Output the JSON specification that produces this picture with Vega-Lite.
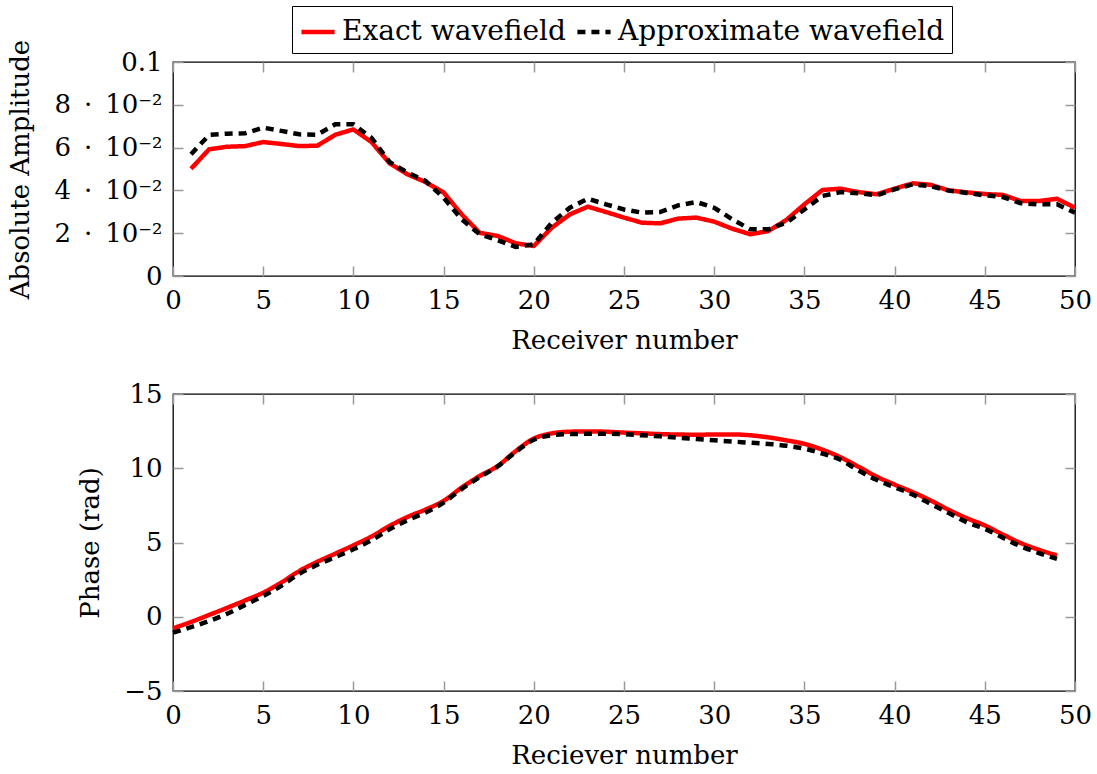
{
  "$schema": "https://vega.github.io/schema/vega-lite/v6.json",
  "background": "white",
  "padding": {"left": 7, "top": 5, "right": 8, "bottom": 2},
  "spacing": 26,
  "datasets": {
    "amp": [
      {"receiver": 1, "wavefield": "Exact wavefield", "value": 0.0501},
      {"receiver": 2, "wavefield": "Exact wavefield", "value": 0.0592},
      {"receiver": 3, "wavefield": "Exact wavefield", "value": 0.0604},
      {"receiver": 4, "wavefield": "Exact wavefield", "value": 0.0607},
      {"receiver": 5, "wavefield": "Exact wavefield", "value": 0.0626},
      {"receiver": 6, "wavefield": "Exact wavefield", "value": 0.0617},
      {"receiver": 7, "wavefield": "Exact wavefield", "value": 0.0607},
      {"receiver": 8, "wavefield": "Exact wavefield", "value": 0.0609},
      {"receiver": 9, "wavefield": "Exact wavefield", "value": 0.066},
      {"receiver": 10, "wavefield": "Exact wavefield", "value": 0.0685},
      {"receiver": 11, "wavefield": "Exact wavefield", "value": 0.0626},
      {"receiver": 12, "wavefield": "Exact wavefield", "value": 0.0527},
      {"receiver": 13, "wavefield": "Exact wavefield", "value": 0.0475},
      {"receiver": 14, "wavefield": "Exact wavefield", "value": 0.0439},
      {"receiver": 15, "wavefield": "Exact wavefield", "value": 0.039},
      {"receiver": 16, "wavefield": "Exact wavefield", "value": 0.0288},
      {"receiver": 17, "wavefield": "Exact wavefield", "value": 0.0202},
      {"receiver": 18, "wavefield": "Exact wavefield", "value": 0.0187},
      {"receiver": 19, "wavefield": "Exact wavefield", "value": 0.0153},
      {"receiver": 20, "wavefield": "Exact wavefield", "value": 0.014},
      {"receiver": 21, "wavefield": "Exact wavefield", "value": 0.0226},
      {"receiver": 22, "wavefield": "Exact wavefield", "value": 0.0288},
      {"receiver": 23, "wavefield": "Exact wavefield", "value": 0.0324},
      {"receiver": 24, "wavefield": "Exact wavefield", "value": 0.0299},
      {"receiver": 25, "wavefield": "Exact wavefield", "value": 0.0273},
      {"receiver": 26, "wavefield": "Exact wavefield", "value": 0.0249},
      {"receiver": 27, "wavefield": "Exact wavefield", "value": 0.0246},
      {"receiver": 28, "wavefield": "Exact wavefield", "value": 0.0268},
      {"receiver": 29, "wavefield": "Exact wavefield", "value": 0.0273},
      {"receiver": 30, "wavefield": "Exact wavefield", "value": 0.0254},
      {"receiver": 31, "wavefield": "Exact wavefield", "value": 0.0221},
      {"receiver": 32, "wavefield": "Exact wavefield", "value": 0.0195},
      {"receiver": 33, "wavefield": "Exact wavefield", "value": 0.021},
      {"receiver": 34, "wavefield": "Exact wavefield", "value": 0.0262},
      {"receiver": 35, "wavefield": "Exact wavefield", "value": 0.0335},
      {"receiver": 36, "wavefield": "Exact wavefield", "value": 0.0402},
      {"receiver": 37, "wavefield": "Exact wavefield", "value": 0.0408},
      {"receiver": 38, "wavefield": "Exact wavefield", "value": 0.0392},
      {"receiver": 39, "wavefield": "Exact wavefield", "value": 0.0382},
      {"receiver": 40, "wavefield": "Exact wavefield", "value": 0.0408},
      {"receiver": 41, "wavefield": "Exact wavefield", "value": 0.0433},
      {"receiver": 42, "wavefield": "Exact wavefield", "value": 0.0426},
      {"receiver": 43, "wavefield": "Exact wavefield", "value": 0.04},
      {"receiver": 44, "wavefield": "Exact wavefield", "value": 0.0391},
      {"receiver": 45, "wavefield": "Exact wavefield", "value": 0.0383},
      {"receiver": 46, "wavefield": "Exact wavefield", "value": 0.0379},
      {"receiver": 47, "wavefield": "Exact wavefield", "value": 0.035},
      {"receiver": 48, "wavefield": "Exact wavefield", "value": 0.035},
      {"receiver": 49, "wavefield": "Exact wavefield", "value": 0.0361},
      {"receiver": 50, "wavefield": "Exact wavefield", "value": 0.0319},
      {"receiver": 1, "wavefield": "Approximate wavefield", "value": 0.0569},
      {"receiver": 2, "wavefield": "Approximate wavefield", "value": 0.0659},
      {"receiver": 3, "wavefield": "Approximate wavefield", "value": 0.0665},
      {"receiver": 4, "wavefield": "Approximate wavefield", "value": 0.0667},
      {"receiver": 5, "wavefield": "Approximate wavefield", "value": 0.0693},
      {"receiver": 6, "wavefield": "Approximate wavefield", "value": 0.0678},
      {"receiver": 7, "wavefield": "Approximate wavefield", "value": 0.0662},
      {"receiver": 8, "wavefield": "Approximate wavefield", "value": 0.066},
      {"receiver": 9, "wavefield": "Approximate wavefield", "value": 0.0709},
      {"receiver": 10, "wavefield": "Approximate wavefield", "value": 0.0709},
      {"receiver": 11, "wavefield": "Approximate wavefield", "value": 0.0646},
      {"receiver": 12, "wavefield": "Approximate wavefield", "value": 0.0533},
      {"receiver": 13, "wavefield": "Approximate wavefield", "value": 0.0483},
      {"receiver": 14, "wavefield": "Approximate wavefield", "value": 0.0444},
      {"receiver": 15, "wavefield": "Approximate wavefield", "value": 0.0366},
      {"receiver": 16, "wavefield": "Approximate wavefield", "value": 0.0265},
      {"receiver": 17, "wavefield": "Approximate wavefield", "value": 0.0195},
      {"receiver": 18, "wavefield": "Approximate wavefield", "value": 0.0167},
      {"receiver": 19, "wavefield": "Approximate wavefield", "value": 0.0136},
      {"receiver": 20, "wavefield": "Approximate wavefield", "value": 0.0148},
      {"receiver": 21, "wavefield": "Approximate wavefield", "value": 0.0249},
      {"receiver": 22, "wavefield": "Approximate wavefield", "value": 0.0319},
      {"receiver": 23, "wavefield": "Approximate wavefield", "value": 0.0361},
      {"receiver": 24, "wavefield": "Approximate wavefield", "value": 0.0335},
      {"receiver": 25, "wavefield": "Approximate wavefield", "value": 0.0311},
      {"receiver": 26, "wavefield": "Approximate wavefield", "value": 0.0296},
      {"receiver": 27, "wavefield": "Approximate wavefield", "value": 0.0299},
      {"receiver": 28, "wavefield": "Approximate wavefield", "value": 0.033},
      {"receiver": 29, "wavefield": "Approximate wavefield", "value": 0.0346},
      {"receiver": 30, "wavefield": "Approximate wavefield", "value": 0.0319},
      {"receiver": 31, "wavefield": "Approximate wavefield", "value": 0.0265},
      {"receiver": 32, "wavefield": "Approximate wavefield", "value": 0.0218},
      {"receiver": 33, "wavefield": "Approximate wavefield", "value": 0.0218},
      {"receiver": 34, "wavefield": "Approximate wavefield", "value": 0.0249},
      {"receiver": 35, "wavefield": "Approximate wavefield", "value": 0.0311},
      {"receiver": 36, "wavefield": "Approximate wavefield", "value": 0.0374},
      {"receiver": 37, "wavefield": "Approximate wavefield", "value": 0.0392},
      {"receiver": 38, "wavefield": "Approximate wavefield", "value": 0.0387},
      {"receiver": 39, "wavefield": "Approximate wavefield", "value": 0.0377},
      {"receiver": 40, "wavefield": "Approximate wavefield", "value": 0.0405},
      {"receiver": 41, "wavefield": "Approximate wavefield", "value": 0.0428},
      {"receiver": 42, "wavefield": "Approximate wavefield", "value": 0.042},
      {"receiver": 43, "wavefield": "Approximate wavefield", "value": 0.0399},
      {"receiver": 44, "wavefield": "Approximate wavefield", "value": 0.0388},
      {"receiver": 45, "wavefield": "Approximate wavefield", "value": 0.0377},
      {"receiver": 46, "wavefield": "Approximate wavefield", "value": 0.0369},
      {"receiver": 47, "wavefield": "Approximate wavefield", "value": 0.034},
      {"receiver": 48, "wavefield": "Approximate wavefield", "value": 0.0335},
      {"receiver": 49, "wavefield": "Approximate wavefield", "value": 0.0335},
      {"receiver": 50, "wavefield": "Approximate wavefield", "value": 0.0296}
    ],
    "phase": [
      {"receiver": 0, "wavefield": "Exact wavefield", "value": -0.78},
      {"receiver": 1, "wavefield": "Exact wavefield", "value": -0.35},
      {"receiver": 2, "wavefield": "Exact wavefield", "value": 0.12},
      {"receiver": 3, "wavefield": "Exact wavefield", "value": 0.6},
      {"receiver": 4, "wavefield": "Exact wavefield", "value": 1.1},
      {"receiver": 5, "wavefield": "Exact wavefield", "value": 1.62},
      {"receiver": 6, "wavefield": "Exact wavefield", "value": 2.3},
      {"receiver": 7, "wavefield": "Exact wavefield", "value": 3.08},
      {"receiver": 8, "wavefield": "Exact wavefield", "value": 3.7},
      {"receiver": 9, "wavefield": "Exact wavefield", "value": 4.25},
      {"receiver": 10, "wavefield": "Exact wavefield", "value": 4.81},
      {"receiver": 11, "wavefield": "Exact wavefield", "value": 5.4},
      {"receiver": 12, "wavefield": "Exact wavefield", "value": 6.11},
      {"receiver": 13, "wavefield": "Exact wavefield", "value": 6.72},
      {"receiver": 14, "wavefield": "Exact wavefield", "value": 7.22},
      {"receiver": 15, "wavefield": "Exact wavefield", "value": 7.8},
      {"receiver": 16, "wavefield": "Exact wavefield", "value": 8.7},
      {"receiver": 17, "wavefield": "Exact wavefield", "value": 9.48},
      {"receiver": 18, "wavefield": "Exact wavefield", "value": 10.15},
      {"receiver": 19, "wavefield": "Exact wavefield", "value": 11.16},
      {"receiver": 20, "wavefield": "Exact wavefield", "value": 12.0},
      {"receiver": 21, "wavefield": "Exact wavefield", "value": 12.35},
      {"receiver": 22, "wavefield": "Exact wavefield", "value": 12.46},
      {"receiver": 23, "wavefield": "Exact wavefield", "value": 12.48},
      {"receiver": 24, "wavefield": "Exact wavefield", "value": 12.46},
      {"receiver": 25, "wavefield": "Exact wavefield", "value": 12.4},
      {"receiver": 26, "wavefield": "Exact wavefield", "value": 12.35},
      {"receiver": 27, "wavefield": "Exact wavefield", "value": 12.3},
      {"receiver": 28, "wavefield": "Exact wavefield", "value": 12.27},
      {"receiver": 29, "wavefield": "Exact wavefield", "value": 12.26},
      {"receiver": 30, "wavefield": "Exact wavefield", "value": 12.27},
      {"receiver": 31, "wavefield": "Exact wavefield", "value": 12.28},
      {"receiver": 32, "wavefield": "Exact wavefield", "value": 12.22},
      {"receiver": 33, "wavefield": "Exact wavefield", "value": 12.08},
      {"receiver": 34, "wavefield": "Exact wavefield", "value": 11.88},
      {"receiver": 35, "wavefield": "Exact wavefield", "value": 11.64},
      {"receiver": 36, "wavefield": "Exact wavefield", "value": 11.25},
      {"receiver": 37, "wavefield": "Exact wavefield", "value": 10.74},
      {"receiver": 38, "wavefield": "Exact wavefield", "value": 10.1},
      {"receiver": 39, "wavefield": "Exact wavefield", "value": 9.44},
      {"receiver": 40, "wavefield": "Exact wavefield", "value": 8.9},
      {"receiver": 41, "wavefield": "Exact wavefield", "value": 8.39},
      {"receiver": 42, "wavefield": "Exact wavefield", "value": 7.83},
      {"receiver": 43, "wavefield": "Exact wavefield", "value": 7.2},
      {"receiver": 44, "wavefield": "Exact wavefield", "value": 6.64},
      {"receiver": 45, "wavefield": "Exact wavefield", "value": 6.15},
      {"receiver": 46, "wavefield": "Exact wavefield", "value": 5.54},
      {"receiver": 47, "wavefield": "Exact wavefield", "value": 4.96},
      {"receiver": 48, "wavefield": "Exact wavefield", "value": 4.51},
      {"receiver": 49, "wavefield": "Exact wavefield", "value": 4.13},
      {"receiver": 0, "wavefield": "Approximate wavefield", "value": -1.07},
      {"receiver": 1, "wavefield": "Approximate wavefield", "value": -0.7},
      {"receiver": 2, "wavefield": "Approximate wavefield", "value": -0.29},
      {"receiver": 3, "wavefield": "Approximate wavefield", "value": 0.2},
      {"receiver": 4, "wavefield": "Approximate wavefield", "value": 0.8},
      {"receiver": 5, "wavefield": "Approximate wavefield", "value": 1.4},
      {"receiver": 6, "wavefield": "Approximate wavefield", "value": 2.08},
      {"receiver": 7, "wavefield": "Approximate wavefield", "value": 2.9},
      {"receiver": 8, "wavefield": "Approximate wavefield", "value": 3.5},
      {"receiver": 9, "wavefield": "Approximate wavefield", "value": 4.02},
      {"receiver": 10, "wavefield": "Approximate wavefield", "value": 4.54},
      {"receiver": 11, "wavefield": "Approximate wavefield", "value": 5.15},
      {"receiver": 12, "wavefield": "Approximate wavefield", "value": 5.89},
      {"receiver": 13, "wavefield": "Approximate wavefield", "value": 6.5},
      {"receiver": 14, "wavefield": "Approximate wavefield", "value": 7.02},
      {"receiver": 15, "wavefield": "Approximate wavefield", "value": 7.68},
      {"receiver": 16, "wavefield": "Approximate wavefield", "value": 8.6},
      {"receiver": 17, "wavefield": "Approximate wavefield", "value": 9.4},
      {"receiver": 18, "wavefield": "Approximate wavefield", "value": 10.12},
      {"receiver": 19, "wavefield": "Approximate wavefield", "value": 11.1},
      {"receiver": 20, "wavefield": "Approximate wavefield", "value": 11.92},
      {"receiver": 21, "wavefield": "Approximate wavefield", "value": 12.22},
      {"receiver": 22, "wavefield": "Approximate wavefield", "value": 12.3},
      {"receiver": 23, "wavefield": "Approximate wavefield", "value": 12.32},
      {"receiver": 24, "wavefield": "Approximate wavefield", "value": 12.32},
      {"receiver": 25, "wavefield": "Approximate wavefield", "value": 12.3},
      {"receiver": 26, "wavefield": "Approximate wavefield", "value": 12.22},
      {"receiver": 27, "wavefield": "Approximate wavefield", "value": 12.15},
      {"receiver": 28, "wavefield": "Approximate wavefield", "value": 12.05},
      {"receiver": 29, "wavefield": "Approximate wavefield", "value": 11.97},
      {"receiver": 30, "wavefield": "Approximate wavefield", "value": 11.88},
      {"receiver": 31, "wavefield": "Approximate wavefield", "value": 11.8},
      {"receiver": 32, "wavefield": "Approximate wavefield", "value": 11.72},
      {"receiver": 33, "wavefield": "Approximate wavefield", "value": 11.64},
      {"receiver": 34, "wavefield": "Approximate wavefield", "value": 11.52},
      {"receiver": 35, "wavefield": "Approximate wavefield", "value": 11.32},
      {"receiver": 36, "wavefield": "Approximate wavefield", "value": 10.98},
      {"receiver": 37, "wavefield": "Approximate wavefield", "value": 10.57},
      {"receiver": 38, "wavefield": "Approximate wavefield", "value": 9.85},
      {"receiver": 39, "wavefield": "Approximate wavefield", "value": 9.22},
      {"receiver": 40, "wavefield": "Approximate wavefield", "value": 8.72},
      {"receiver": 41, "wavefield": "Approximate wavefield", "value": 8.23},
      {"receiver": 42, "wavefield": "Approximate wavefield", "value": 7.6},
      {"receiver": 43, "wavefield": "Approximate wavefield", "value": 6.98},
      {"receiver": 44, "wavefield": "Approximate wavefield", "value": 6.37},
      {"receiver": 45, "wavefield": "Approximate wavefield", "value": 5.92},
      {"receiver": 46, "wavefield": "Approximate wavefield", "value": 5.32},
      {"receiver": 47, "wavefield": "Approximate wavefield", "value": 4.74},
      {"receiver": 48, "wavefield": "Approximate wavefield", "value": 4.29},
      {"receiver": 49, "wavefield": "Approximate wavefield", "value": 3.9}
    ]
  },
  "vconcat": [
    {
      "width": 902,
      "height": 214,
      "data": {"name": "amp"},
      "layer": [
        {
          "transform": [{"filter": "datum.wavefield === 'Exact wavefield'"}],
          "mark": {"type": "line", "strokeWidth": 4.5, "strokeJoin": "round"},
          "encoding": {
            "x": {"field": "receiver", "type": "quantitative", "scale": {"domain": [0, 50], "nice": false},
                  "axis": {"values": [0, 5, 10, 15, 20, 25, 30, 35, 40, 45, 50], "title": "Receiver number"}},
            "y": {"field": "value", "type": "quantitative", "scale": {"domain": [0, 0.1], "nice": false, "zero": false},
                  "axis": {"values": [0, 0.02, 0.04, 0.06, 0.08, 0.1], "title": "Absolute Amplitude",
                           "labelExpr": "datum.value == 0 ? '0' : datum.value > 0.099 ? '0.1' : round(datum.value * 100) + '\u2002·\u200210⁻²'"}},
            "color": {"field": "wavefield", "type": "nominal",
                      "scale": {"domain": ["Exact wavefield", "Approximate wavefield"], "range": ["#ff0000", "#000000"]},
                      "legend": {"orient": "none", "legendX": 119, "legendY": -56, "direction": "horizontal", "title": null}},
            "strokeDash": {"field": "wavefield", "type": "nominal",
                           "scale": {"domain": ["Exact wavefield", "Approximate wavefield"], "range": [[1, 0], [8, 6]]},
                           "legend": {"orient": "none", "legendX": 119, "legendY": -56, "direction": "horizontal", "title": null}}
          }
        },
        {
          "transform": [{"filter": "datum.wavefield === 'Approximate wavefield'"}],
          "mark": {"type": "line", "strokeWidth": 4.5},
          "encoding": {
            "x": {"field": "receiver", "type": "quantitative", "axis": null},
            "y": {"field": "value", "type": "quantitative", "axis": null},
            "color": {"field": "wavefield", "type": "nominal"},
            "strokeDash": {"field": "wavefield", "type": "nominal"}
          }
        },
        {
          "mark": {"type": "line", "opacity": 0},
          "encoding": {
            "x": {"field": "receiver", "type": "quantitative",
                  "axis": {"orient": "top", "labels": false, "title": null, "values": [0, 5, 10, 15, 20, 25, 30, 35, 40, 45, 50]}},
            "y": {"field": "value", "type": "quantitative",
                  "axis": {"orient": "right", "labels": false, "title": null, "values": [0, 0.02, 0.04, 0.06, 0.08, 0.1]}},
            "detail": {"field": "wavefield"}
          }
        }
      ],
      "resolve": {"axis": {"x": "independent", "y": "independent"}}
    },
    {
      "width": 902,
      "height": 297,
      "data": {"name": "phase"},
      "layer": [
        {
          "transform": [{"filter": "datum.wavefield === 'Exact wavefield'"}],
          "mark": {"type": "line", "strokeWidth": 4.5, "interpolate": "monotone"},
          "encoding": {
            "x": {"field": "receiver", "type": "quantitative", "scale": {"domain": [0, 50], "nice": false},
                  "axis": {"values": [0, 5, 10, 15, 20, 25, 30, 35, 40, 45, 50], "title": "Reciever number"}},
            "y": {"field": "value", "type": "quantitative", "scale": {"domain": [-5, 15], "nice": false, "zero": false},
                  "axis": {"values": [-5, 0, 5, 10, 15], "title": "Phase (rad)"}},
            "color": {"field": "wavefield", "type": "nominal"},
            "strokeDash": {"field": "wavefield", "type": "nominal"}
          }
        },
        {
          "transform": [{"filter": "datum.wavefield === 'Approximate wavefield'"}],
          "mark": {"type": "line", "strokeWidth": 4.5, "interpolate": "monotone"},
          "encoding": {
            "x": {"field": "receiver", "type": "quantitative", "axis": null},
            "y": {"field": "value", "type": "quantitative", "axis": null},
            "color": {"field": "wavefield", "type": "nominal"},
            "strokeDash": {"field": "wavefield", "type": "nominal"}
          }
        },
        {
          "mark": {"type": "line", "opacity": 0},
          "encoding": {
            "x": {"field": "receiver", "type": "quantitative",
                  "axis": {"orient": "top", "labels": false, "title": null, "values": [0, 5, 10, 15, 20, 25, 30, 35, 40, 45, 50]}},
            "y": {"field": "value", "type": "quantitative",
                  "axis": {"orient": "right", "labels": false, "title": null, "values": [-5, 0, 5, 10, 15]}},
            "detail": {"field": "wavefield"}
          }
        }
      ],
      "resolve": {"axis": {"x": "independent", "y": "independent"}}
    }
  ],
  "resolve": {"scale": {"color": "shared", "strokeDash": "shared"}},
  "config": {
    "font": "DejaVu Serif",
    "view": {"stroke": "#000000", "strokeWidth": 1.3},
    "axis": {
      "domain": false,
      "grid": false,
      "labelFont": "DejaVu Serif",
      "labelFontSize": 26,
      "labelColor": "#000000",
      "labelPadding": 21,
      "labelFlush": false,
      "labelOverlap": false,
      "titleFont": "DejaVu Serif",
      "titleFontSize": 26,
      "titleFontWeight": "normal",
      "titleColor": "#000000",
      "titlePadding": 14,
      "tickColor": "#9a9a9a",
      "tickSize": -10,
      "tickWidth": 1.5
    },
    "axisY": {"titlePadding": 20},
    "legend": {
      "labelFont": "DejaVu Serif",
      "labelFontSize": 28,
      "labelColor": "#000000",
      "labelLimit": 0,
      "symbolType": "stroke",
      "symbolSize": 1100,
      "symbolStrokeWidth": 4.5,
      "strokeColor": "#000000",
      "padding": 7,
      "columnPadding": 2,
      "labelOffset": 5
    }
  }
}
